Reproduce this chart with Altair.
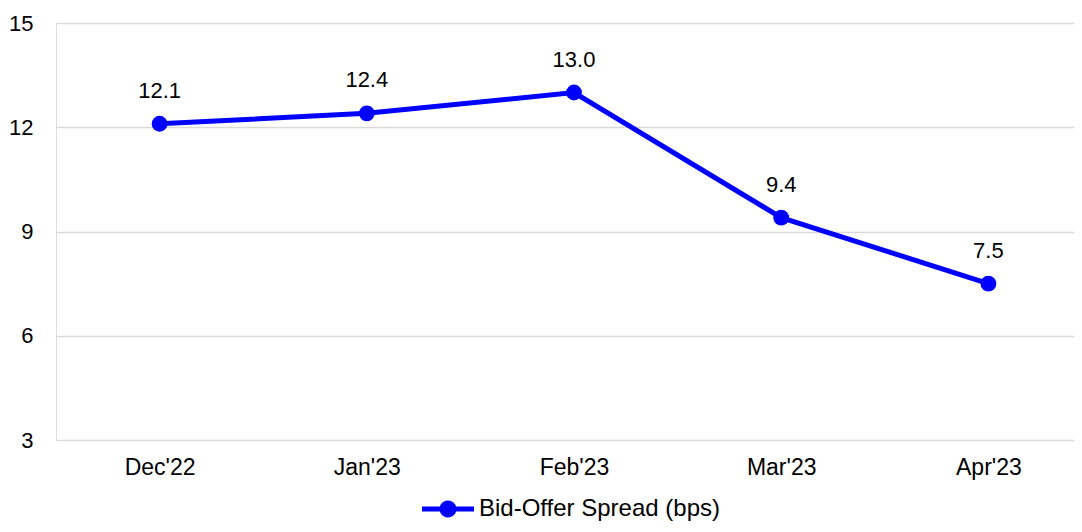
import altair as alt
import pandas as pd

months = ["Dec'22", "Jan'23", "Feb'23", "Mar'23", "Apr'23"]
spread = [12.1, 12.4, 13.0, 9.4, 7.5]
series_name = "Bid-Offer Spread (bps)"
y_ticks = [3, 6, 9, 12, 15]

df = pd.DataFrame({"month": months, "value": spread, "series": [series_name] * len(months)})

FONT = "Liberation Sans"
BLUE = "#0000ff"
FS = 22

legend_path = (
    "M-2.6,-0.25 H2.6 V0.25 H-2.6 Z "
    "M0.85,0 A0.85,0.85 0 1,1 -0.85,0 A0.85,0.85 0 1,1 0.85,0 Z"
)

x_enc = alt.X(
    "month:N",
    sort=months,
    scale=alt.Scale(type="point", padding=0.5, range=[0, 1036]),
    axis=alt.Axis(
        title=None, labelAngle=0, ticks=False, domain=False, grid=False,
        labelFont=FONT, labelFontSize=23, labelColor="#000000", labelPadding=16,
    ),
)
y_enc = alt.Y(
    "value:Q",
    scale=alt.Scale(domain=[3, 15], nice=False, zero=False),
    axis=alt.Axis(
        title=None, values=y_ticks, ticks=False, domain=False,
        gridColor="#d9d9d9", gridWidth=1.5,
        labelFont=FONT, labelFontSize=FS, labelColor="#000000", labelPadding=23,
    ),
)
color_enc = alt.Color(
    "series:N",
    scale=alt.Scale(range=[BLUE]),
    legend=alt.Legend(
        title=None, orient="none", legendX=380, legendY=474,
        symbolType=legend_path, symbolSize=400, symbolFillColor=BLUE,
        symbolStrokeColor=BLUE, symbolStrokeWidth=0, symbolOpacity=1,
        labelFont=FONT, labelFontSize=24, labelColor="#000000", labelOffset=19,
        labelLimit=0, padding=0,
    ),
)

base = alt.Chart(df).encode(x=x_enc, y=y_enc)

line = base.mark_line(strokeWidth=5).encode(color=color_enc)
points = base.mark_point(filled=True, size=250, opacity=1).encode(color=color_enc)
labels = base.mark_text(dy=-33, font=FONT, fontSize=FS, color="#000000").encode(
    text=alt.Text("value:Q", format=".1f")
)

chart = (
    alt.layer(line, points, labels)
    .properties(
        width=1018,
        height=417,
        autosize=alt.AutoSizeParams(type="none"),
        padding={"left": 48, "top": 15, "right": 0, "bottom": 84},
    )
    .configure_view(strokeWidth=0, stroke="transparent", strokeOpacity=0)
    .configure_axis(domain=False, ticks=False, domainOpacity=0)
    .configure_axisX(grid=False)
    .configure(background="#ffffff")
)

chart.save("out.html", embed_options={"renderer": "svg", "actions": False})
